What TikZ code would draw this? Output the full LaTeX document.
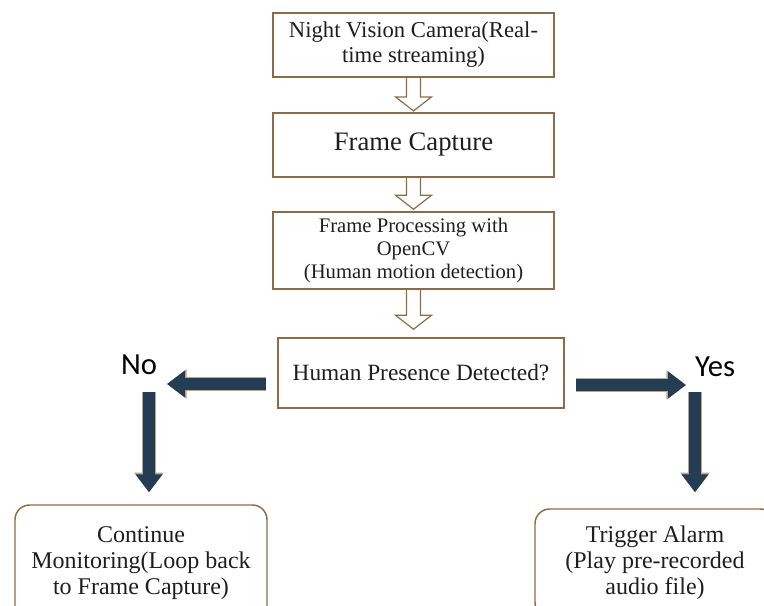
\documentclass[tikz,border=0pt]{standalone}
\usepackage{fontspec}
\setmainfont{Liberation Serif}
\newfontfamily\answerfont{Carlito}
\usetikzlibrary{arrows.meta,calc}

\definecolor{boxline}{RGB}{140,108,72}
\definecolor{arrowblue}{RGB}{36,60,84}
\definecolor{arrowedge}{RGB}{190,165,130}
\definecolor{ink}{RGB}{30,30,30}

\tikzset{
  stepbox/.style={draw=boxline,line width=1.1pt,text=ink,align=center,inner sep=0pt,font=\fontsize{17}{18.75}\selectfont},
  endbox/.style={stepbox,rounded corners=11pt,font=\fontsize{18}{19.5}\selectfont},
  answer/.style={inner sep=0pt,text=black,font=\answerfont\fontsize{23}{25}\selectfont},
  hollow/.style={draw=boxline,line width=0.9pt,line join=miter},
  bigarrow/.style={draw=arrowblue,line width=9pt,-{Triangle[length=13.5pt,width=19.5pt]},
    preaction={draw=arrowedge,line width=10.4pt,-{Triangle[length=14.8pt,width=21.2pt]}}},
}

% open block arrow between two stacked boxes (#3 = gap above the lower box)
\newcommand{\hollowdown}[3]{%
  \draw[hollow] let \p1=(#1.south), \p2=(#2.north) in
    (\x1-5.25pt,\y1) -- (\x1-5.25pt,\y2+#3+10.5pt) -- (\x1-13.5pt,\y2+#3+10.5pt)
    -- (\x1,\y2+#3) -- (\x1+13.5pt,\y2+#3+10.5pt) -- (\x1+5.25pt,\y2+#3+10.5pt) -- (\x1+5.25pt,\y1);}

\begin{document}
\begin{tikzpicture}[x=0.75pt,y=-0.75pt]
\useasboundingbox (0,0) rectangle (764,606);

% main chain
\node[stepbox,minimum width=210.75pt,minimum height=48pt] (cam) at (413.5,45) {Night Vision Camera(Real-\\time streaming)};
\node[stepbox,minimum width=210.75pt,minimum height=48pt,font=\fontsize{20}{22}\selectfont] (capture) at (413.5,145) {Frame Capture};
\node[stepbox,minimum width=210.75pt,minimum height=57.75pt,font=\fontsize{15.5}{17}\selectfont] (process) at (413.5,250.5) {Frame Processing with\\OpenCV\\(Human motion detection)};
\node[stepbox,minimum width=214.5pt,minimum height=52.5pt,font=\fontsize{17.5}{19}\selectfont] (detect) at (421,373) {Human Presence Detected?};

% outcomes
\node[endbox,minimum width=189pt,minimum height=87pt] (monitor) at (141,563) {Continue\\Monitoring(Loop back\\to Frame Capture)};
\node[endbox,minimum width=180pt,minimum height=81pt] (alarm) at (655,563) {Trigger Alarm\\(Play pre-recorded\\audio file)};

\node[answer] (no) at (139,365) {No};
\node[answer] (yes) at (715,367) {Yes};

\coordinate (noend) at (167,384);
\coordinate (notop) at (149,392);
\coordinate (yesend) at (686,385);
\coordinate (yestop) at (695,392);

\hollowdown{cam}{capture}{1pt}
\hollowdown{capture}{process}{1.5pt}
\hollowdown{process}{detect}{6pt}

\draw[bigarrow] ([shift={(-11,11)}]detect.west) -- (noend);
\draw[bigarrow,shorten >=9pt] (notop) -- (notop |- monitor.north);
\draw[bigarrow] ([shift={(11,12)}]detect.east) -- (yesend);
\draw[bigarrow,shorten >=12pt] (yestop) -- (yestop |- alarm.north);
\end{tikzpicture}
\end{document}
